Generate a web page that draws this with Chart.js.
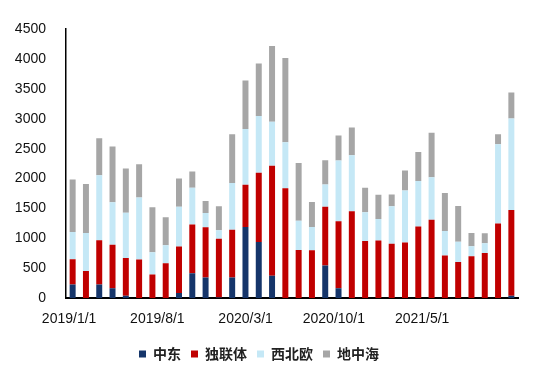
<!DOCTYPE html>
<html><head><meta charset="utf-8">
<script src="https://cdn.jsdelivr.net/npm/chart.js@4/dist/chart.umd.min.js"></script>
<style>html,body{margin:0;padding:0;background:#fff;}#wrap{width:550px;height:376px;}</style>
</head><body><div id="wrap"><canvas id="c" width="550" height="376"></canvas></div>
<script>
const categories = ['2019/1/1','2019/2/1','2019/3/1','2019/4/1','2019/5/1','2019/6/1','2019/7/1','2019/8/1','2019/9/1','2019/10/1','2019/11/1','2019/12/1',
 '2020/1/1','2020/2/1','2020/3/1','2020/4/1','2020/5/1','2020/6/1','2020/7/1','2020/8/1','2020/9/1','2020/10/1','2020/11/1','2020/12/1',
 '2021/1/1','2021/2/1','2021/3/1','2021/4/1','2021/5/1','2021/6/1','2021/7/1','2021/8/1','2021/9/1','2021/10/1'];
const tickLabels = ['2019/1/1','2019/8/1','2020/3/1','2020/10/1','2021/5/1'];
const seriesNames = ['中东','独联体','西北欧','地中海'];
const mideast = [230,0,230,165,40,0,0,0,85,415,345,10,345,1190,940,375,0,0,0,545,165,0,0,0,0,0,0,0,0,0,0,0,0,40];
const cis = [420,455,740,730,630,645,395,585,780,815,840,985,800,705,1155,1840,1840,805,800,985,1120,1455,955,965,910,930,1200,1310,715,605,700,755,1250,1435];
const nwEurope = [455,635,1085,710,760,1040,375,300,665,615,240,140,780,935,950,735,765,490,390,370,1015,935,480,360,625,870,760,710,410,340,170,165,1325,1530];
const med = [880,820,620,930,740,555,750,470,470,275,200,400,815,810,880,1265,1410,965,420,405,420,465,410,405,200,335,485,745,635,595,220,165,165,435];

const colors = ['#15356a','#c00000','#c5e8f6','#a6a6a6'];
const FONT = "'Liberation Sans', Arial, 'Noto Sans CJK SC', sans-serif";
const values = [mideast, cis, nwEurope, med];

new Chart(document.getElementById('c'), {
  type: 'bar',
  data: {
    labels: categories,
    datasets: values.map((v,i)=>({
      label: seriesNames[i], data: v, backgroundColor: colors[i],
      borderWidth: 0, barPercentage: 0.9, categoryPercentage: 0.5, stack: 's'
    }))
  },
  options: {
    responsive: false, animation: false,
    layout: { padding: { left: 0, right: 32, top: 29, bottom: 5 } },
    plugins: {
      tooltip: { enabled: false },
      legend: {
        position: 'bottom',
        labels: { boxWidth: 7, boxHeight: 7, padding: 10, color: '#222',
          font: { family: "'Noto Sans CJK SC', sans-serif", size: 14, weight: 'bold' } }
      }
    },
    scales: {
      x: {
        stacked: true,
        grid: { display: false },
        border: { display: true, color: '#000', width: 2 },
        ticks: { display: false },
        afterFit: s => { s.height = 0; }
      },
      xLab: {
        type: 'linear', position: 'bottom', bounds: 'data', offset: false,
        min: -0.035, max: 5.086,
        grid: { display: false, offset: false },
        border: { display: false },
        afterBuildTicks: a => { a.ticks = tickLabels.map((_,i)=>({ value: i })); },
        afterFit: s => { s.height = s.height + 4; },
        ticks: { autoSkip: false, maxRotation: 0, padding: 5, color: '#111',
          font: { family: FONT, size: 14 },
          callback: v => tickLabels[v] }
      },
      y: {
        stacked: true, min: 0, max: 4500,
        grid: { display: false },
        border: { display: true, color: '#000', width: 1.5 },
        afterFit: s => { s.width = 66; },
        ticks: { stepSize: 500, padding: 12, color: '#111',
          font: { family: FONT, size: 14 },
          callback: v => String(v) }
      }
    }
  }
});
</script></body></html>
